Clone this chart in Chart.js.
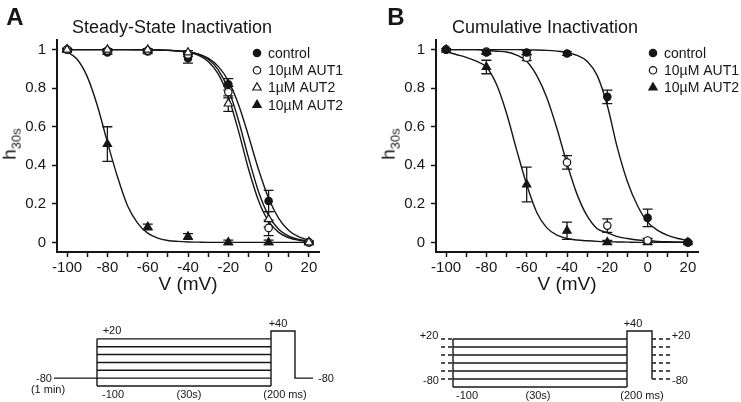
<!DOCTYPE html>
<html>
<head>
<meta charset="utf-8">
<script src="https://cdn.jsdelivr.net/npm/chart.js@4.4.1/dist/chart.umd.min.js"></script>
<style>
  html, body { margin: 0; padding: 0; background: #fff; }
  #fig { position: relative; width: 741px; height: 402px; overflow: hidden;
    font-family: "Liberation Sans", Arial, sans-serif; color: #161616; }
  #fig canvas { position: absolute; }
  .t { position: absolute; white-space: nowrap; line-height: 1; transform: translate(-50%, -50%); }
  .letter { font-size: 24px; font-weight: bold; }
  .title { font-size: 18px; }
  .ylab { font-size: 19px; transform: translate(-50%, -50%) rotate(-90deg); }
  .ylab sub { font-size: 13px; }
  .pl { font-size: 11px; }
</style>
</head>
<body>
<div id="fig">
  <canvas id="ssChart" width="370" height="300" style="left:0;top:0"></canvas>
  <canvas id="ciChart" width="371" height="300" style="left:370px;top:0"></canvas>
  <canvas id="ssProto" width="370" height="102" style="left:0;top:300px"></canvas>
  <canvas id="ciProto" width="371" height="102" style="left:370px;top:300px"></canvas>

  <div class="t letter" style="left:15px;top:17px">A</div>
  <div class="t letter" style="left:396px;top:17px">B</div>
  <div class="t title" style="left:172px;top:27px">Steady-State Inactivation</div>
  <div class="t title" style="left:545px;top:27px">Cumulative Inactivation</div>
  <div class="t ylab" style="left:11px;top:144px">h<sub>30s</sub></div>
  <div class="t ylab" style="left:390px;top:144px">h<sub>30s</sub></div>

  <!-- protocol A -->
  <div class="t pl" style="left:44px;top:378px">-80</div>
  <div class="t pl" style="left:48px;top:389px">(1 min)</div>
  <div class="t pl" style="left:112px;top:330px">+20</div>
  <div class="t pl" style="left:278px;top:323px">+40</div>
  <div class="t pl" style="left:326px;top:378px">-80</div>
  <div class="t pl" style="left:113px;top:394px">-100</div>
  <div class="t pl" style="left:189px;top:394px">(30s)</div>
  <div class="t pl" style="left:285px;top:394px">(200 ms)</div>

  <!-- protocol B -->
  <div class="t pl" style="left:429px;top:335px">+20</div>
  <div class="t pl" style="left:431px;top:380px">-80</div>
  <div class="t pl" style="left:633px;top:323px">+40</div>
  <div class="t pl" style="left:681px;top:335px">+20</div>
  <div class="t pl" style="left:680px;top:380px">-80</div>
  <div class="t pl" style="left:467px;top:395px">-100</div>
  <div class="t pl" style="left:538px;top:395px">(30s)</div>
  <div class="t pl" style="left:642px;top:395px">(200 ms)</div>
</div>
<script>
  // test potentials (mV) and axis ticks
  var dataV = [ -100, -80, -60, -40, -20, 0, 20 ];
  var xTicks = [ -100, -90, -80, -70, -60, -50, -40, -30, -20, -10, 0, 10, 20 ];
  var yTicks = [ 0, 0.2, 0.4, 0.6, 0.8, 1 ];
  var seriesNames = [ 'control', '10\u00b5M AUT1', '1\u00b5M AUT2', '10\u00b5M AUT2' ];

  // A: steady-state inactivation, mean and error
  var ssControl = [ 1.0, 0.986, 0.99, 0.955, 0.82, 0.215, 0.0 ];
  var ssControlErr = [ 0.008, 0.01, 0.01, 0.025, 0.03, 0.055, 0.005 ];
  var ssAut1 = [ 1.0, 0.995, 0.995, 0.975, 0.78, 0.075, 0.0 ];
  var ssAut1Err = [ 0.005, 0.005, 0.005, 0.01, 0.03, 0.04, 0.005 ];
  var ssAut2Lo = [ 1.0, 1.0, 1.0, 0.985, 0.72, 0.12, 0.0 ];
  var ssAut2LoErr = [ 0.005, 0.005, 0.005, 0.01, 0.04, 0.04, 0.005 ];
  var ssAut2Hi = [ 1.0, 0.51, 0.08, 0.03, 0.0, 0.0, 0.0 ];
  var ssAut2HiErr = [ 0.005, 0.09, 0.015, 0.015, 0.012, 0.012, 0.005 ];

  // B: cumulative inactivation
  var ciControl = [ 1.0, 0.985, 0.985, 0.98, 0.755, 0.127, 0.0 ];
  var ciControlErr = [ 0.005, 0.01, 0.01, 0.01, 0.035, 0.045, 0.005 ];
  var ciAut1 = [ 1.0, 0.99, 0.958, 0.415, 0.087, 0.01, 0.0 ];
  var ciAut1Err = [ 0.0, 0.01, 0.015, 0.035, 0.035, 0.01, 0.0 ];
  var ciAut2 = [ 1.0, 0.91, 0.30, 0.06, 0.0, 0.0, 0.0 ];
  var ciAut2Err = [ 0.0, 0.035, 0.09, 0.045, 0.01, 0.01, 0.0 ];

  // fitted curves, every 5 mV
  var fitV = [ -100, -95, -90, -85, -80, -75, -70, -65, -60, -55, -50, -45, -40,
    -35, -30, -25, -20, -15, -10, -5, 0, 5, 10, 15, 20 ];
  var ssControlFit = [ 1, 1, 1, 1, 1, 1, 1, 0.999, 0.999, 0.998, 0.996, 0.993, 0.988,
    0.978, 0.956, 0.913, 0.838, 0.717, 0.553, 0.378, 0.229, 0.125, 0.062, 0.028, 0.012 ];
  var ssAut1Fit = [ 1, 1, 1, 1, 1, 1, 1, 1, 1, 0.999, 0.997, 0.993, 0.987,
    0.972, 0.939, 0.874, 0.756, 0.58, 0.382, 0.216, 0.109, 0.052, 0.024, 0.011, 0.005 ];
  var ssAut2LoFit = [ 1, 1, 1, 1, 1, 1, 1, 1, 0.999, 0.998, 0.996, 0.993, 0.989,
    0.977, 0.95, 0.895, 0.794, 0.635, 0.44, 0.263, 0.139, 0.068, 0.032, 0.015, 0.007 ];
  var ssAut2HiFit = [ 0.99, 0.95, 0.86, 0.71, 0.52, 0.34, 0.19, 0.1, 0.048, 0.022, 0.01,
    0.005, 0.002, 0.001, 0, 0, 0, 0, 0, 0, 0, 0, 0, 0, 0 ];
  var ciControlFit = [ 1, 1, 1, 1, 1, 1, 1, 1, 0.999, 0.998, 0.996, 0.992, 0.985,
    0.97, 0.94, 0.865, 0.71, 0.49, 0.315, 0.19, 0.105, 0.062, 0.036, 0.02, 0.01 ];
  var ciAut1Fit = [ 1, 1, 1, 1, 0.996, 0.992, 0.988, 0.972, 0.94, 0.865, 0.751, 0.591, 0.409,
    0.249, 0.137, 0.071, 0.05, 0.03, 0.02, 0.012, 0.008, 0.005, 0.003, 0.002, 0.001 ];
  var ciAut2Fit = [ 0.99, 0.975, 0.96, 0.94, 0.91, 0.82, 0.67, 0.48, 0.30, 0.155, 0.075,
    0.037, 0.02, 0.012, 0.008, 0.005, 0.003, 0.002, 0.001, 0, 0, 0, 0, 0, 0 ];

  // voltage protocols (mV) and schematic time points
  var protoLevels = [ 20, 0, -20, -40, -60, -80, -100 ];
  var dashLevels = [ 20, 0, -20, -40, -60, -80 ];
  var holdLevel = -80;
  var testLevel = 40;
  var ssTimes = [ 0, 43, 217, 241, 259 ];
  var ciTimes = [ 0, 12, 186, 211, 229 ];

  var ink = '#161616';
  var family = '"Liberation Sans", Arial, sans-serif';
  Chart.defaults.font.family = family;
  Chart.defaults.color = ink;

  function pts( xs, ys ) {
    return xs.map( function ( x, i ) { return { x: x, y: ys[ i ] }; } );
  }

  function markers( label, ys, errs, style, filled, order ) {
    var tri = style === 'triangle';
    return {
      label: label,
      data: pts( dataV, ys ),
      errors: errs,
      showLine: false,
      pointStyle: style,
      pointRadius: tri ? 4.8 : 3.7,
      pointBackgroundColor: filled ? ink : '#fff',
      pointBorderColor: ink,
      pointBorderWidth: 1.2,
      order: order,
    };
  }

  function fit( ys ) {
    return {
      data: pts( fitV, ys ),
      isFit: true,
      showLine: true,
      pointRadius: 0,
      borderColor: ink,
      borderWidth: 1.4,
      cubicInterpolationMode: 'monotone',
      order: 10,
    };
  }

  var errorBars = {
    id: 'errorBars',
    beforeDatasetsDraw: function ( chart ) {
      var ctx = chart.ctx, xs = chart.scales.x, ys = chart.scales.y;
      ctx.save();
      ctx.strokeStyle = ink;
      ctx.lineWidth = 1.3;
      chart.data.datasets.forEach( function ( ds ) {
        if ( !ds.errors ) return;
        ds.data.forEach( function ( p, j ) {
          var e = ds.errors[ j ];
          if ( !e ) return;
          var px = xs.getPixelForValue( p.x );
          var top = ys.getPixelForValue( p.y + e );
          var bot = ys.getPixelForValue( p.y - e );
          ctx.beginPath();
          ctx.moveTo( px, top ); ctx.lineTo( px, bot );
          ctx.moveTo( px - 5, top ); ctx.lineTo( px + 5, top );
          ctx.moveTo( px - 5, bot ); ctx.lineTo( px + 5, bot );
          ctx.stroke();
        } );
      } );
      ctx.restore();
    },
  };

  var markerLegend = {
    id: 'markerLegend',
    afterDraw: function ( chart, args, opts ) {
      var ctx = chart.ctx, row = 0;
      ctx.save();
      ctx.font = '14px ' + family;
      ctx.textBaseline = 'middle';
      chart.data.datasets.forEach( function ( ds ) {
        if ( ds.isFit ) return;
        var y = opts.y + row * opts.rowH;
        ctx.fillStyle = ds.pointBackgroundColor;
        ctx.strokeStyle = ds.pointBorderColor;
        ctx.lineWidth = ds.pointBorderWidth;
        Chart.helpers.drawPoint( ctx, {
          pointStyle: ds.pointStyle, radius: ds.pointRadius, rotation: 0, borderWidth: ds.pointBorderWidth,
        }, opts.x, y );
        ctx.fillStyle = ink;
        ctx.fillText( ds.label, opts.x + 11, y + 1 );
        row++;
      } );
      ctx.restore();
    },
  };

  function axisOpts( extra ) {
    var base = {
      grid: { drawOnChartArea: false, tickLength: 5, tickWidth: 1.5, tickColor: ink },
      border: { color: ink, width: 2 },
      ticks: { font: { size: 15 }, color: ink, autoSkip: false, maxRotation: 0 },
    };
    return Object.assign( base, extra );
  }

  function panel( id, datasets, yWidth, padRight, legendX ) {
    new Chart( document.getElementById( id ), {
      type: 'line',
      data: { datasets: datasets },
      options: {
        responsive: false,
        animation: false,
        events: [],
        layout: { padding: { top: 40, right: padRight, bottom: 0, left: 0 } },
        plugins: {
          legend: { display: false },
          tooltip: { enabled: false },
          markerLegend: { x: legendX, y: 53, rowH: 17.3 },
        },
        scales: {
          x: axisOpts( {
            type: 'linear', min: -105, max: 25,
            afterBuildTicks: function ( s ) { s.ticks = xTicks.map( function ( v ) { return { value: v }; } ); },
            afterFit: function ( s ) { s.height = 48; },
            ticks: { font: { size: 15 }, color: ink, padding: 2, autoSkip: false, maxRotation: 0,
              callback: function ( v ) { return v % 20 === 0 ? String( v ) : ''; } },
            title: { display: true, text: 'V (mV)', font: { size: 19 }, color: ink, padding: { top: 0, bottom: 4 } },
          } ),
          y: axisOpts( {
            type: 'linear', min: -0.05, max: 1.05,
            afterBuildTicks: function ( s ) { s.ticks = yTicks.map( function ( v ) { return { value: v }; } ); },
            afterFit: function ( s ) { s.width = yWidth; },
            ticks: { font: { size: 15 }, color: ink, padding: 6,
              callback: function ( v ) { return String( v ); } },
          } ),
        },
      },
      plugins: [ errorBars, markerLegend ],
    } );
  }

  panel( 'ssChart', [
    markers( seriesNames[ 0 ], ssControl, ssControlErr, 'circle', true, 3 ),
    markers( seriesNames[ 1 ], ssAut1, ssAut1Err, 'circle', false, 2 ),
    markers( seriesNames[ 2 ], ssAut2Lo, ssAut2LoErr, 'triangle', false, 1 ),
    markers( seriesNames[ 3 ], ssAut2Hi, ssAut2HiErr, 'triangle', true, 4 ),
    fit( ssControlFit ), fit( ssAut1Fit ), fit( ssAut2LoFit ), fit( ssAut2HiFit ),
  ], 57, 51, 257 );

  panel( 'ciChart', [
    markers( seriesNames[ 0 ], ciControl, ciControlErr, 'circle', true, 1 ),
    markers( seriesNames[ 1 ], ciAut1, ciAut1Err, 'circle', false, 2 ),
    markers( seriesNames[ 3 ], ciAut2, ciAut2Err, 'triangle', true, 3 ),
    fit( ciControlFit ), fit( ciAut1Fit ), fit( ciAut2Fit ),
  ], 66, 43, 283 );

  // protocol traces
  function seg( points, dashed ) {
    return {
      data: points.map( function ( p ) { return { x: p[ 0 ], y: p[ 1 ] }; } ),
      borderColor: ink,
      borderWidth: 1.4,
      borderDash: dashed ? [ 4, 3 ] : [],
      pointRadius: 0,
      tension: 0,
      clip: false,
    };
  }

  function protocol( id, t, cumulative, pad ) {
    var sets = [];
    if ( cumulative ) {
      dashLevels.forEach( function ( L ) { sets.push( seg( [ [ t[ 0 ], L ], [ t[ 1 ], L ] ], true ) ); } );
    } else {
      sets.push( seg( [ [ t[ 0 ], holdLevel ], [ t[ 1 ], holdLevel ] ] ) );
    }
    protoLevels.forEach( function ( L ) { sets.push( seg( [ [ t[ 1 ], L ], [ t[ 2 ], L ] ] ) ); } );
    sets.push( seg( [ [ t[ 1 ], protoLevels[ 0 ] ], [ t[ 1 ], protoLevels[ protoLevels.length - 1 ] ] ] ) );
    var tail = [ [ t[ 2 ], protoLevels[ protoLevels.length - 1 ] ], [ t[ 2 ], testLevel ],
      [ t[ 3 ], testLevel ], [ t[ 3 ], holdLevel ] ];
    if ( cumulative ) {
      sets.push( seg( tail ) );
      dashLevels.forEach( function ( L ) { sets.push( seg( [ [ t[ 3 ], L ], [ t[ 4 ], L ] ], true ) ); } );
    } else {
      tail.push( [ t[ 4 ], holdLevel ] );
      sets.push( seg( tail ) );
    }
    new Chart( document.getElementById( id ), {
      type: 'line',
      data: { datasets: sets },
      options: {
        responsive: false,
        animation: false,
        events: [],
        layout: { padding: pad },
        plugins: { legend: { display: false }, tooltip: { enabled: false } },
        scales: {
          x: { type: 'linear', display: false, min: t[ 0 ], max: t[ 4 ] },
          y: { type: 'linear', display: false, min: -100, max: 40 },
        },
      },
    } );
  }

  protocol( 'ssProto', ssTimes, false, { left: 54, right: 57, top: 31, bottom: 16 } );
  protocol( 'ciProto', ciTimes, true, { left: 71, right: 71, top: 31, bottom: 15 } );
</script>
</body>
</html>
